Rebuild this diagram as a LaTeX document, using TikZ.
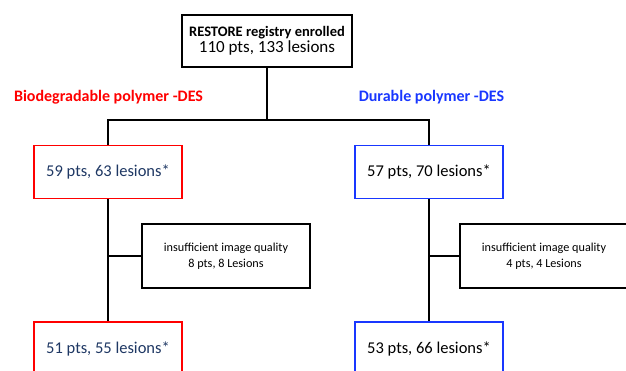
\documentclass[tikz,border=0pt]{standalone}
\usepackage{fontspec}
\setmainfont{Carlito}
\usetikzlibrary{positioning,calc}

\definecolor{navytext}{RGB}{31,56,100}
\definecolor{desblue}{RGB}{25,55,255}

\begin{document}
\begin{tikzpicture}
    [x=1pt, y=-1pt,
    box/.style={rectangle,
        draw=black, line width=1.5pt,
        fill=white, align=center, inner sep=0pt},
    armbox/.style={box,
        minimum width=148pt, minimum height=53pt,
        font=\fontsize{16.5}{19}\selectfont},
    bpbox/.style={armbox, draw=red, text=navytext},
    dpbox/.style={armbox, draw=desblue},
    lossbox/.style={box,
        minimum width=168pt, minimum height=64pt,
        font=\fontsize{12.2}{16}\selectfont},
    armlabel/.style={font=\fontsize{16}{18}\selectfont\bfseries},
    link/.style={line width=1.5pt}]

    \useasboundingbox (0,0) rectangle (626,371);

    \node[box, minimum width=170pt, minimum height=52pt] (enrolled) at (267,41)
        {{\fontsize{14.5}{17}\selectfont\bfseries RESTORE registry enrolled}\\[1pt]
         {\fontsize{17}{19}\selectfont 110 pts, 133 lesions}};

    \node[armlabel, text=red] (bplabel) at (108.5,97) {Biodegradable polymer -DES};
    \node[armlabel, text=desblue] (dplabel) at (431.5,97) {Durable polymer -DES};

    % both arms
    \node[bpbox] (bpall) at (108,172) {59 pts, 63 lesions*};
    \node[dpbox] (dpall) at (429,172) {57 pts, 70 lesions*};

    \node[lossbox] (bploss) at (226,256)
        {insufficient image quality\\8 pts, 8 Lesions};
    \node[lossbox] (dploss) at (544,256)
        {insufficient image quality\\4 pts, 4 Lesions};

    \node[bpbox] (bpfinal) at (108,348.5) {51 pts, 55 lesions*};
    \node[dpbox, text=black] (dpfinal) at (429,348.5) {53 pts, 66 lesions*};

    % connectors
    \coordinate (split) at (enrolled.south |- 0,120);
    \coordinate (bpjoin) at (bpall.south |- bploss.west);
    \coordinate (dpjoin) at (dpall.south |- dploss.west);

    \draw[link] (enrolled.south) -- (split);
    \draw[link] (bpall.north) |- (split) -| (dpall.north);
    \draw[link] (bpall.south) -- (bpfinal.north);
    \draw[link] (dpall.south) -- (dpfinal.north);
    \draw[link] (bploss.west) -- (bpjoin);
    \draw[link] (dploss.west) -- (dpjoin);
\end{tikzpicture}
\end{document}
